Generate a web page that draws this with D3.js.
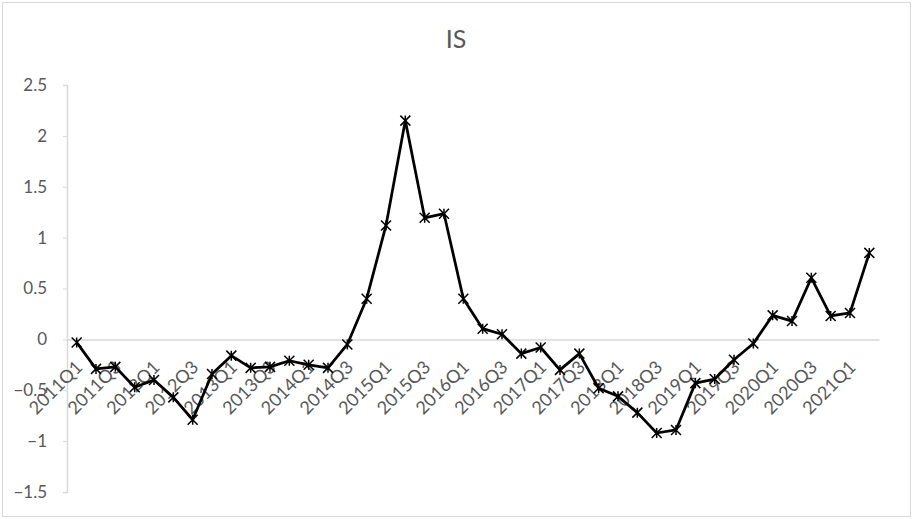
<!DOCTYPE html>
<html>
<head>
<meta charset="utf-8">
<script src="https://cdn.jsdelivr.net/npm/d3@7"></script>
<style>
  body { margin: 0; background: #fff; }
  .c-axis text { font-family: Lato, "Open Sans", sans-serif; fill: #595959; }
  .c-axis path, .c-axis line { stroke: #d9d9d9; }
</style>
</head>
<body>
<div id="isChart"></div>
<script>
const quarters = [
  '2011Q1', '2011Q2', '2011Q3', '2011Q4', '2012Q1', '2012Q2', '2012Q3', '2012Q4',
  '2013Q1', '2013Q2', '2013Q3', '2013Q4', '2014Q1', '2014Q2', '2014Q3', '2014Q4',
  '2015Q1', '2015Q2', '2015Q3', '2015Q4', '2016Q1', '2016Q2', '2016Q3', '2016Q4',
  '2017Q1', '2017Q2', '2017Q3', '2017Q4', '2018Q1', '2018Q2', '2018Q3', '2018Q4',
  '2019Q1', '2019Q2', '2019Q3', '2019Q4', '2020Q1', '2020Q2', '2020Q3', '2020Q4',
  '2021Q1', '2021Q2'
];
const isValues = [
  -0.03, -0.29, -0.27, -0.47, -0.40, -0.57, -0.79, -0.34,
  -0.16, -0.28, -0.27, -0.21, -0.25, -0.28, -0.05, 0.40,
  1.12, 2.15, 1.195, 1.235, 0.40, 0.105, 0.05, -0.14,
  -0.08, -0.30, -0.14, -0.48, -0.56, -0.72, -0.92, -0.89,
  -0.43, -0.39, -0.20, -0.04, 0.236, 0.18, 0.605, 0.23,
  0.26, 0.85
];
const yTicks = [-1.5, -1, -0.5, 0, 0.5, 1, 1.5, 2, 2.5];
const chartTitle = 'IS';

class IsChart {
  constructor () {
    this.chartContainer = d3.select('#isChart');
    this.chart = null;
    this.chartWidth = 913;
    this.chartHeight = 519;
    this.plotLeft = 67;
    this.plotRight = 879;
    this.plotTop = 85;
    this.plotBottom = 492;
    this.xScale = null;
    this.yScale = null;
  }

  createSvg () {
    this.chart = this.chartContainer
      .append('svg')
      .attr('width', this.chartWidth)
      .attr('height', this.chartHeight);

    this.chart.append('rect')
      .attr('x', 2.5)
      .attr('y', 2.5)
      .attr('width', this.chartWidth - 5)
      .attr('height', this.chartHeight - 5)
      .attr('fill', '#fff')
      .attr('stroke', '#d9d9d9');

    this.chart.append('text')
      .attr('x', 456)
      .attr('y', 48)
      .attr('text-anchor', 'middle')
      .style('font-family', 'Lato, "Open Sans", sans-serif')
      .style('font-size', '25px')
      .style('fill', '#595959')
      .text(chartTitle);
  }

  initScales () {
    this.xScale = d3.scaleBand().domain(quarters).range([this.plotLeft, this.plotRight]);
    this.yScale = d3.scaleLinear().domain([-1.5, 2.5]).range([this.plotBottom, this.plotTop]);
  }

  drawAxes () {
    let yAxis = d3.axisLeft(this.yScale)
      .tickValues(yTicks)
      .tickSize(4)
      .tickPadding(16)
      .tickFormat(d3.format('~g'));

    let xAxis = d3.axisBottom(this.xScale)
      .tickSize(0)
      .tickFormat((d, i) => i % 2 === 0 ? d : '');

    let yG = this.chart
      .append('g')
      .attr('class', 'c-axis')
      .attr('transform', 'translate(' + this.plotLeft + ', 0)')
      .call(yAxis);
    yG.select('.domain').attr('stroke-width', 1.5);
    yG.selectAll('text').style('font-size', '17px');

    let xG = this.chart
      .append('g')
      .attr('class', 'c-axis')
      .attr('transform', 'translate(0, ' + this.yScale(0) + ')')
      .call(xAxis);
    xG.select('.domain').attr('stroke-width', 1.5);
    xG.selectAll('text')
      .style('font-size', '18px')
      .attr('text-anchor', 'end')
      .attr('dy', 0)
      .attr('y', 0)
      .attr('transform', 'translate(7, 29) rotate(-45)');
  }

  drawLine () {
    let line = d3.line()
      .x((d, i) => this.xScale(quarters[i]) + this.xScale.bandwidth() / 2)
      .y((d) => this.yScale(d));

    this.chart
      .append('g')
      .attr('class', 'c-line')
      .append('path')
      .attr('d', line(isValues))
      .attr('fill', 'none')
      .attr('stroke', '#000')
      .attr('stroke-width', 2.75)
      .attr('stroke-linejoin', 'round');
  }

  drawPoints () {
    let r = 5;
    let star = 'M' + -r + ',' + -r + 'L' + r + ',' + r +
      'M' + -r + ',' + r + 'L' + r + ',' + -r +
      'M0,' + -r + 'L0,' + r;

    this.chart
      .append('g')
      .attr('class', 'c-points')
      .selectAll('path')
      .data(isValues)
      .enter()
      .append('path')
      .attr('transform', (d, i) => 'translate(' +
        (this.xScale(quarters[i]) + this.xScale.bandwidth() / 2) + ',' + this.yScale(d) + ')')
      .attr('d', star)
      .attr('fill', 'none')
      .attr('stroke', '#000')
      .attr('stroke-width', 1.5);
  }

  render () {
    this.createSvg();
    this.initScales();
    this.drawAxes();
    this.drawLine();
    this.drawPoints();
  }
}

new IsChart().render();
</script>
</body>
</html>
